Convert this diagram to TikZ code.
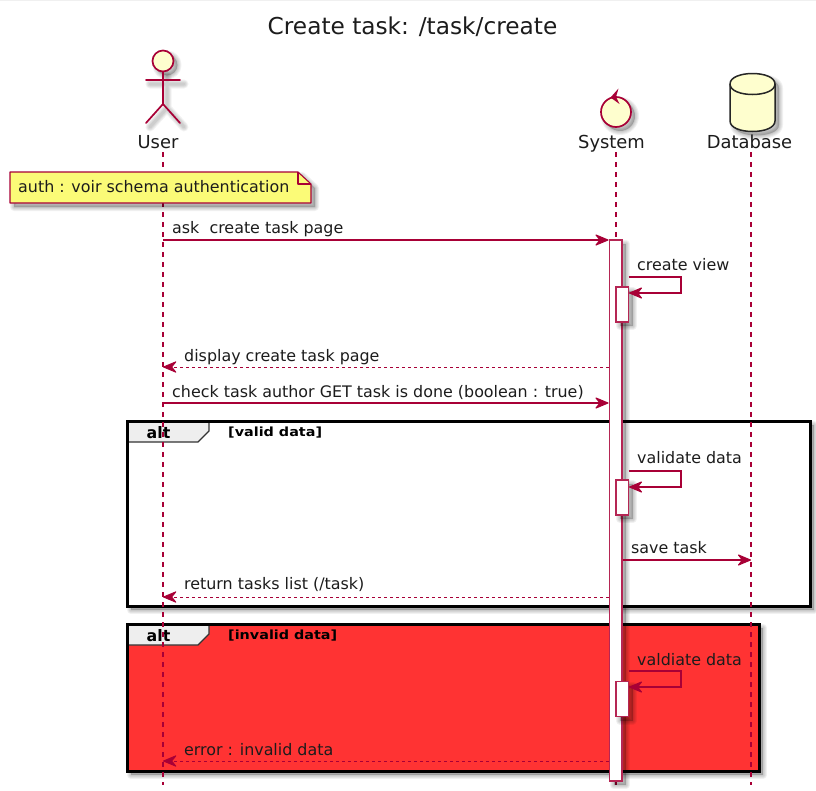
\documentclass[tikz,border=0pt]{standalone}
\usepackage{fontspec}
\setmainfont{DejaVu Sans}
\usetikzlibrary{arrows.meta}
\definecolor{umlred}{HTML}{A80036}
\definecolor{umlfill}{HTML}{FEFECE}
\definecolor{notefill}{HTML}{FBFB77}
\definecolor{altred}{HTML}{FF3333}
\definecolor{tabfill}{HTML}{EEEEEE}
\definecolor{txt}{HTML}{1C1C1C}
\newcommand{\softshade}[1]{%
  \foreach \w in {8,6,4,2}{%
    \path[draw=black,fill=black,opacity=.055,line width=\w pt,line join=round,line cap=round,xshift=4pt,yshift=-4pt] #1;}}
\newcommand{\softline}[1]{%
  \foreach \w in {9,7,5,3}{%
    \draw[black,opacity=.05,line width=\w pt,line cap=round,line join=round,xshift=4pt,yshift=-4pt] #1;}}
\tikzset{
  msgtext/.style={font=\fontsize{15.9}{18}\selectfont,text=txt,anchor=base west,inner sep=0pt},
  parttext/.style={font=\fontsize{17.9}{20}\selectfont,text=txt,anchor=base,inner sep=0pt},
  lifeline/.style={draw=umlred,line width=1.1pt,dash pattern=on 5pt off 5pt},
  msg/.style={draw=umlred,line width=1.05pt,-{Stealth[length=15pt,width=12.5pt,inset=5pt,round]}},
  retmsg/.style={draw=umlred,line width=.9pt,dash pattern=on 3pt off 3pt,-{Stealth[length=15pt,width=12.5pt,inset=5pt,round]}},
  barbox/.style={draw=umlred!85,fill=white,line width=1.1pt,inner sep=0pt,minimum width=12.5pt},
  framebox/.style={draw=black,line width=3pt,line join=miter},
  tabshape/.style={draw=black!80,fill=tabfill,line width=1.2pt},
  alttext/.style={font=\bfseries\fontsize{15.8}{18}\selectfont,text=black,anchor=base,inner sep=0pt},
  condtext/.style={font=\bfseries\fontsize{12.6}{14}\selectfont,text=black,anchor=base west,inner sep=0pt,xscale=1.14},
  actorline/.style={draw=umlred,line width=1.7pt,line cap=round,line join=round},
}
\begin{document}
\begin{tikzpicture}[x=1pt,y=-1pt]
\useasboundingbox (0,0) rectangle (816,790);
\fill[white] (0,0) rectangle (816,790);
\fill[black!6] (0,0) rectangle (816,1);

\node[font=\fontsize{23.25}{26}\selectfont,text=txt,anchor=base,inner sep=0pt] (title) at (412.5,34) {Create task: /task/create};

% frames
\softshade{(127,421) rectangle (810,606)}
\draw[framebox,fill=white] (127,421) rectangle (810,606);
\softshade{(127,624) rectangle (759,771)}
\draw[framebox,fill=altred] (127,624) rectangle (759,771);
\draw[tabshape] (128,422) -- (209,422) -- (209,431) -- (198,442) -- (128,442) -- cycle;
\draw[tabshape] (128,625) -- (209,625) -- (209,634) -- (198,645) -- (128,645) -- cycle;
\draw[black,line width=3pt] (127,421) rectangle (810,606);
\draw[black,line width=3pt] (127,624) rectangle (759,771);
\node[alttext] (alta) at (158.5,438.5) {alt};
\node[alttext] (altb) at (158.5,641.5) {alt};
\node[condtext] (conda) at (228,436.7) {[valid data]};
\node[condtext] (condb) at (228,639.7) {[invalid data]};

% lifeline ends
\coordinate (userTop) at (163,152);
\coordinate (userEnd) at (163,785);
\coordinate (sysTop) at (616,152);
\coordinate (sysEnd) at (616,785);
\coordinate (dbTop) at (751,152);
\coordinate (dbEnd) at (751,785);
\draw[lifeline] (userTop) -- (userEnd);
\draw[lifeline] (sysTop) -- (sysEnd);
\draw[lifeline] (dbTop) -- (dbEnd);

% actor
\softshade{(163,61) circle (10.5)}
\softline{(146,80) -- (180,80) (163,72) -- (163,104) (146,123) -- (163,104) -- (180,123)}
\draw[actorline,fill=umlfill] (163,61) circle (10.5);
\draw[actorline] (146,80) -- (180,80) (163,71.5) -- (163,104) (146,123) -- (163,104) -- (180,123);
\node[parttext] (user) at (158,148.5) {User};

% control
\softshade{(616,112) circle (15)}
\draw[actorline,fill=umlfill] (616,112) circle (15);
\fill[umlred] (618.5,88.5) -- (610.5,97.5) -- (619.5,104) -- (616,97) -- cycle;
\node[parttext] (system) at (611.5,148.5) {System};

% database
\softshade{(730,84) .. controls (730,70) and (775,70) .. (775,84) -- (775,121) .. controls (775,135) and (730,135) .. (730,121) -- cycle}
\draw[draw=black!85,fill=umlfill,line width=1.5pt] (730,84) .. controls (730,70) and (775,70) .. (775,84) -- (775,121) .. controls (775,135) and (730,135) .. (730,121) -- cycle;
\draw[draw=black!85,line width=1.5pt] (730,84) .. controls (730,98) and (775,98) .. (775,84);
\node[parttext] (database) at (749.5,148.5) {Database};

% note
\softshade{(10,172) -- (298,172) -- (311,184) -- (311,203) -- (10,203) -- cycle}
\draw[draw=umlred,fill=notefill,line width=1.1pt,line join=round] (10,172) -- (298,172) -- (311,184) -- (311,203) -- (10,203) -- cycle;
\draw[draw=umlred,line width=1.1pt,line join=round] (298,172) -- (298,184) -- (311,184);
\node[msgtext] (note) at (18,192) {auth : voir schema authentication};

% activation bars
\softshade{(609.5,240) rectangle (622,781)}
\node[barbox,minimum height=541pt] (sysbar) at (615.75,510.5) {};
\softshade{(616,287) rectangle (628.5,322)}
\node[barbox,minimum height=35pt] (viewbar) at (622.25,304.5) {};
\softshade{(616,480) rectangle (628.5,515)}
\node[barbox,minimum height=35pt] (validbar) at (622.25,497.5) {};
\softshade{(616,681.5) rectangle (628.5,716.5)}
\node[barbox,minimum height=35pt] (invalidbar) at (622.25,699) {};

% message endpoints
\coordinate (m1a) at (163,240);
\coordinate (m1b) at (608.5,240);
\coordinate (m2a) at (628.5,277);
\coordinate (m2b) at (681,277);
\coordinate (m2c) at (681,293);
\coordinate (m2d) at (629,293);
\coordinate (m3a) at (608.5,367);
\coordinate (m3b) at (163,367);
\coordinate (m4a) at (163,403);
\coordinate (m4b) at (608.5,403);
\coordinate (m5a) at (628.5,471);
\coordinate (m5b) at (681,471);
\coordinate (m5c) at (681,487);
\coordinate (m5d) at (629,487);
\coordinate (m6a) at (622.5,560);
\coordinate (m6b) at (751,560);
\coordinate (m7a) at (608.5,597);
\coordinate (m7b) at (163,597);
\coordinate (m8a) at (628.5,671);
\coordinate (m8b) at (681,671);
\coordinate (m8c) at (681,687);
\coordinate (m8d) at (629,687);
\coordinate (m9a) at (608.5,761);
\coordinate (m9b) at (163,761);

\draw[msg] (m1a) -- (m1b);
\draw[msg] (m2a) -- (m2b) -- (m2c) -- (m2d);
\draw[retmsg] (m3a) -- (m3b);
\draw[msg] (m4a) -- (m4b);
\draw[msg] (m5a) -- (m5b) -- (m5c) -- (m5d);
\draw[msg] (m6a) -- (m6b);
\draw[retmsg] (m7a) -- (m7b);
\draw[msg] (m8a) -- (m8b) -- (m8c) -- (m8d);
\draw[retmsg] (m9a) -- (m9b);

\node[msgtext] (t1) at (172,233) {ask\ \ create task page};
\node[msgtext] (t2) at (637,270.5) {create view};
\node[msgtext] (t3) at (184,361) {display create task page};
\node[msgtext] (t4) at (172,397) {check task author GET task is done (boolean : true)};
\node[msgtext] (t5) at (637,463.5) {validate data};
\node[msgtext] (t6) at (631,553) {save task};
\node[msgtext] (t7) at (184,589.5) {return tasks list (/task)};
\node[msgtext] (t8) at (637,665.5) {valdiate data};
\node[msgtext] (t9) at (184,755.5) {error : invalid data};
\end{tikzpicture}
\end{document}
